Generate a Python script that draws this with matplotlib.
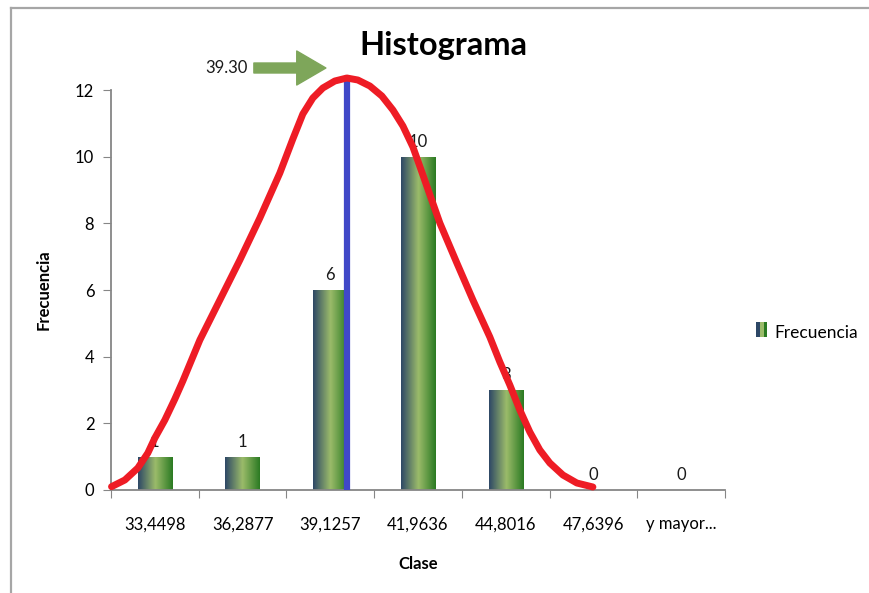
import numpy as np
import matplotlib
matplotlib.use("Agg")
import matplotlib.pyplot as plt
from matplotlib.colors import LinearSegmentedColormap
from matplotlib.lines import Line2D
from matplotlib.patches import Rectangle
from matplotlib.legend_handler import HandlerBase

plt.rcParams['font.family'] = ['Lato', 'DejaVu Sans']

# data
clases = ['33,4498', '36,2877', '39,1257', '41,9636', '44,8016', '47,6396', 'y mayor...']
frecuencia = [1, 1, 6, 10, 3, 0, 0]

# hand drawn red curve (x in category units, y in frequency units)
curva_x = [-0.494, -0.342, -0.194, -0.080, 0.000, 0.114, 0.228, 0.319, 0.513, 0.741,
           0.969, 1.197, 1.425, 1.573, 1.687, 1.801, 1.915, 2.052, 2.189, 2.314,
           2.451, 2.588, 2.714, 2.828, 2.942, 3.056, 3.249, 3.443, 3.626, 3.819,
           3.933, 4.047, 4.161, 4.275, 4.389, 4.503, 4.652, 4.811, 4.994]
curva_y = [0.10, 0.30, 0.66, 1.11, 1.56, 2.10, 2.73, 3.27, 4.50, 5.70,
           6.90, 8.16, 9.51, 10.53, 11.28, 11.76, 12.06, 12.27, 12.36, 12.30,
           12.12, 11.82, 11.40, 10.92, 10.29, 9.45, 8.01, 6.81, 5.70, 4.59,
           3.84, 3.15, 2.40, 1.74, 1.20, 0.81, 0.45, 0.21, 0.09]

media_x = 2.19
media_y = 12.36
media_txt = '39.30'

grad = LinearSegmentedColormap.from_list(
    'barra', [(0, '#2d4766'), (0.5, '#9bbb6a'), (1, '#2a7a22')])

fig = plt.figure(figsize=(8.69, 5.93), dpi=100)
ax = fig.add_axes([111 / 869, 1 - 490 / 593, 614 / 869, 400 / 593])

x = np.arange(len(clases))
bars = ax.bar(x, frecuencia, width=0.39, color='none', edgecolor='none', zorder=2)
g = np.linspace(0, 1, 256).reshape(1, -1)
for b in bars:
    if b.get_height() <= 0:
        continue
    x0, w, h = b.get_x(), b.get_width(), b.get_height()
    im = ax.imshow(g, cmap=grad, aspect='auto', extent=[x0, x0 + w, 0, h],
                   zorder=2, interpolation='bilinear')
    im.set_clip_path(b)

for xi, v in zip(x, frecuencia):
    ax.annotate(str(v), (xi, v), xytext=(0, 5), textcoords='offset points',
                ha='center', va='bottom', fontsize=12, color='#1a1a1a')

ax.plot([media_x, media_x], [0, media_y], color='#4048c8', lw=4.5,
        solid_capstyle='butt', zorder=3, clip_on=False)
ax.plot(curva_x, curva_y, color='#ee1c25', lw=5, solid_capstyle='round',
        solid_joinstyle='round', zorder=4, clip_on=False)

# arrow with the mean value
ax.annotate('', xy=(1.95, 12.66), xytext=(1.129, 12.66),
            arrowprops=dict(arrowstyle='simple,head_length=2.1,head_width=2.45,tail_width=0.72',
                            color='#7ea65a', shrinkA=0, shrinkB=0, mutation_scale=10),
            annotation_clip=False)
ax.text(1.06, 12.66, media_txt, ha='right', va='center', fontsize=12, color='#1a1a1a',
        clip_on=False)

ax.set_xlim(-0.5, len(clases) - 0.5)
ax.set_ylim(0, 12)
ax.set_yticks(range(0, 13, 2))
ax.set_xticks(np.arange(-0.5, len(clases), 1))
ax.set_xticklabels([])
ax.set_xticks(x, minor=True)
ax.set_xticklabels(clases, minor=True, fontsize=12)
ax.tick_params(axis='x', which='major', length=6, color='#868686', direction='out')
ax.tick_params(axis='x', which='minor', length=0, pad=19)
ax.tick_params(axis='y', length=6, color='#868686', labelsize=12, pad=6)
for s in ['top', 'right']:
    ax.spines[s].set_visible(False)
for s in ['left', 'bottom']:
    ax.spines[s].set_color('#868686')
    ax.spines[s].set_linewidth(1.3)

ax.set_ylabel('Frecuencia', fontsize=12, fontweight='bold')
ax.yaxis.set_label_coords(-0.097, 0.5)
ax.set_xlabel('Clase', fontsize=12, fontweight='bold')
ax.xaxis.set_label_coords(0.5, -0.165)

fig.text(443 / 869, 1 - 46 / 593, 'Histograma', ha='center', va='center',
         fontsize=23.5, fontweight='bold')


class GradHandler(HandlerBase):
    def create_artists(self, legend, orig, xd, yd, w, h, fs, trans):
        cols = ['#2d4766', '#9bbb6a', '#2a7a22']
        out = []
        for i, c in enumerate(cols):
            out.append(Rectangle((xd + i * w / 3, yd), w / 3, h, facecolor=c,
                                 edgecolor='none', transform=trans))
        return out


proxy = Rectangle((0, 0), 1, 1)
fig.legend([proxy], ['Frecuencia'], handler_map={Rectangle: GradHandler()},
           loc='center left', bbox_to_anchor=(756 / 869, 1 - 333 / 593),
           frameon=False, fontsize=12.5, handlelength=0.65, handleheight=0.95,
           handletextpad=0.4, borderpad=0, borderaxespad=0)

# outer frame (left and top edges only visible in the reference)
fig.add_artist(Line2D([10.5 / 869, 10.5 / 869], [0, 1 - 8 / 593], color='#a6a6a6',
                      lw=1.6, transform=fig.transFigure))
fig.add_artist(Line2D([10.5 / 869, 1], [1 - 8 / 593, 1 - 8 / 593], color='#a6a6a6',
                      lw=1.6, transform=fig.transFigure))

fig.savefig('out.png', dpi=100)
